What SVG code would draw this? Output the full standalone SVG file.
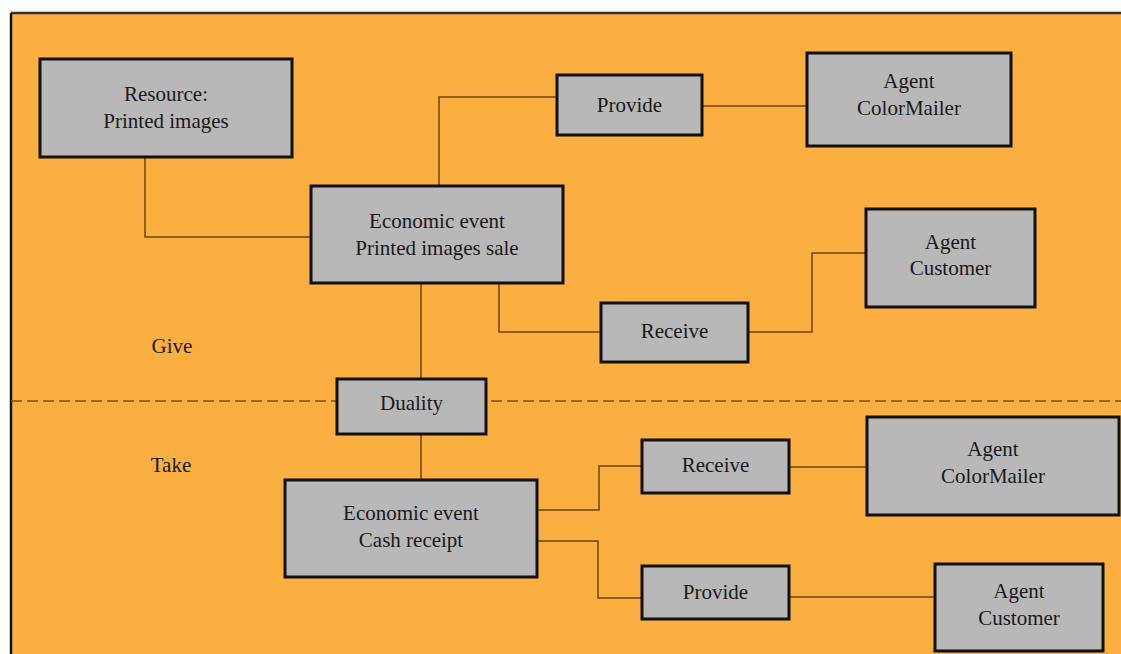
<svg xmlns="http://www.w3.org/2000/svg" width="1121" height="654" viewBox="0 0 1121 654">
  <style>
    .bg { fill: #FBAF40; }
    .box { fill: #B8B8B8; stroke: #111; stroke-width: 3; }
    .wire { fill: none; stroke: #6B4614; stroke-width: 1.5; }
    .divider { fill: none; stroke: #7A5220; stroke-width: 1.6; stroke-dasharray: 11 5; }
    text { font-family: 'Liberation Serif', 'Times New Roman', serif; font-size: 21px; fill: #1a1a1a; text-anchor: middle; }
  </style>

  <!-- canvas and frame -->
  <rect x="0" y="0" width="1121" height="654" fill="#ffffff"/>
  <rect class="bg" x="11" y="13" width="1110" height="641"/>
  <line x1="11" y1="13" x2="1121" y2="13" stroke="#333" stroke-width="2.5"/>
  <line x1="11" y1="13" x2="11" y2="654" stroke="#111" stroke-width="2.5"/>

  <!-- give / take split -->
  <line class="divider" x1="11" y1="401" x2="1121" y2="401"/>
  <text x="172" y="353">Give</text>
  <text x="171" y="472">Take</text>

  <!-- connectors -->
  <g id="connectors">
    <polyline class="wire" points="145,157 145,237 311,237"/>
    <polyline class="wire" points="439,186 439,97 557,97"/>
    <line class="wire" x1="702" y1="106" x2="807" y2="106"/>
    <polyline class="wire" points="499,283 499,332 601,332"/>
    <polyline class="wire" points="748,332 812,332 812,253 866,253"/>
    <line class="wire" x1="421" y1="283" x2="421" y2="379"/>
    <line class="wire" x1="421" y1="434" x2="421" y2="480"/>
    <polyline class="wire" points="537,510 599,510 599,466 642,466"/>
    <line class="wire" x1="789" y1="467" x2="867" y2="467"/>
    <polyline class="wire" points="537,541 598,541 598,598 642,598"/>
    <line class="wire" x1="789" y1="597" x2="935" y2="597"/>
  </g>

  <!-- nodes -->
  <g id="resource">
    <rect class="box" x="40" y="59" width="252" height="98"/>
    <text x="166" y="101">Resource:</text>
    <text x="166" y="128">Printed images</text>
  </g>
  <g id="event-sale">
    <rect class="box" x="311" y="186" width="252" height="97"/>
    <text x="437" y="228">Economic event</text>
    <text x="437" y="255">Printed images sale</text>
  </g>
  <g id="provide-top">
    <rect class="box" x="557" y="75" width="145" height="60"/>
    <text x="629.5" y="112">Provide</text>
  </g>
  <g id="agent-colormailer-top">
    <rect class="box" x="807" y="53" width="204" height="93"/>
    <text x="909" y="88">Agent</text>
    <text x="909" y="115">ColorMailer</text>
  </g>
  <g id="agent-customer-top">
    <rect class="box" x="866" y="209" width="169" height="98"/>
    <text x="950.5" y="249">Agent</text>
    <text x="950.5" y="275">Customer</text>
  </g>
  <g id="receive-top">
    <rect class="box" x="601" y="303" width="147" height="59"/>
    <text x="674.5" y="338">Receive</text>
  </g>
  <g id="duality">
    <rect class="box" x="337" y="379" width="149" height="55"/>
    <text x="411.5" y="410">Duality</text>
  </g>
  <g id="event-cash">
    <rect class="box" x="285" y="480" width="252" height="97"/>
    <text x="411" y="520">Economic event</text>
    <text x="411" y="547">Cash receipt</text>
  </g>
  <g id="receive-bottom">
    <rect class="box" x="642" y="440" width="147" height="53"/>
    <text x="715.5" y="472">Receive</text>
  </g>
  <g id="agent-colormailer-bottom">
    <rect class="box" x="867" y="417" width="252" height="98"/>
    <text x="993" y="456">Agent</text>
    <text x="993" y="483">ColorMailer</text>
  </g>
  <g id="provide-bottom">
    <rect class="box" x="642" y="566" width="147" height="53"/>
    <text x="715.5" y="599">Provide</text>
  </g>
  <g id="agent-customer-bottom">
    <rect class="box" x="935" y="564" width="168" height="87"/>
    <text x="1019" y="598">Agent</text>
    <text x="1019" y="625">Customer</text>
  </g>
</svg>
